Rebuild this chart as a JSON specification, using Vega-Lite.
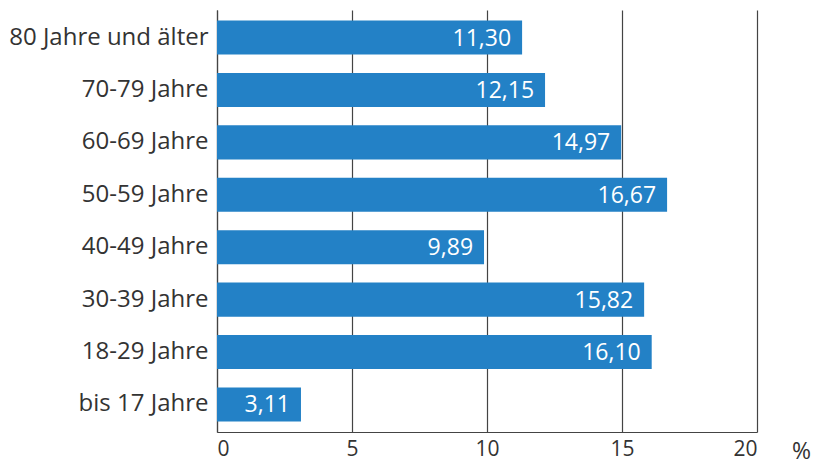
{
  "$schema": "https://vega.github.io/schema/vega-lite/v6.json",
  "width": 540,
  "height": 422,
  "autosize": "none",
  "padding": {"left": 217, "top": 10, "right": 57, "bottom": 32},
  "config": {
    "view": {"stroke": null},
    "font": "Open Sans",
    "locale": {"number": {"decimal": ",", "thousands": ".", "grouping": [3], "currency": ["", " €"]}}
  },
  "data": {
    "values": [
      {"group": "80 Jahre und älter", "value": 11.30},
      {"group": "70-79 Jahre", "value": 12.15},
      {"group": "60-69 Jahre", "value": 14.97},
      {"group": "50-59 Jahre", "value": 16.67},
      {"group": "40-49 Jahre", "value": 9.89},
      {"group": "30-39 Jahre", "value": 15.82},
      {"group": "18-29 Jahre", "value": 16.10},
      {"group": "bis 17 Jahre", "value": 3.11}
    ]
  },
  "encoding": {
    "y": {
      "field": "group", "type": "nominal", "sort": null,
      "scale": {"paddingInner": 0.35, "paddingOuter": 0.2},
      "axis": {"title": null, "ticks": false, "domain": true, "domainColor": "#444", "domainWidth": 1.2,
               "labelFontSize": 24, "labelColor": "#333", "labelPadding": 9, "labelFont": "Open Sans", "labelLimit": 260}
    }
  },
  "layer": [
    {
      "mark": {"type": "bar", "color": "#2381c6"},
      "encoding": {
        "x": {
          "field": "value", "type": "quantitative",
          "scale": {"domain": [0, 20], "nice": false},
          "axis": {"values": [0, 5, 10, 15, 20], "format": "d", "grid": true, "gridColor": "#444", "gridWidth": 1.2, "gridOpacity": 1,
                   "ticks": false, "domain": true, "domainColor": "#444", "domainWidth": 1.2,
                   "labelFontSize": 21, "labelColor": "#333", "labelPadding": 6, "labelFont": "Open Sans",
                   "title": "%", "titleFontSize": 23, "titleFontWeight": "normal", "titleColor": "#333", "titleFont": "Open Sans",
                   "titleAngle": 0, "titleAlign": "center", "titleBaseline": "middle", "titleX": 584, "titleY": 19}
        }
      }
    },
    {
      "mark": {"type": "text", "align": "right", "baseline": "middle", "dx": -11, "dy": 1, "color": "white", "fontSize": 23, "font": "Open Sans"},
      "encoding": {
        "x": {"field": "value", "type": "quantitative"},
        "text": {"field": "value", "type": "quantitative", "format": ".2f"}
      }
    }
  ]
}
